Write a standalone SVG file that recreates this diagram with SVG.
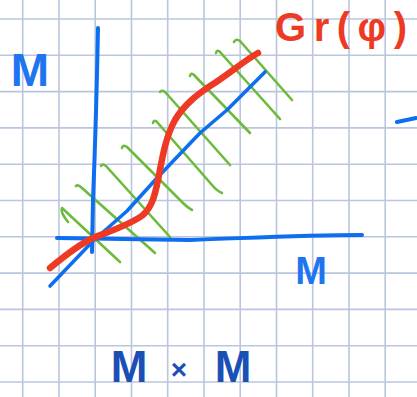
<svg xmlns="http://www.w3.org/2000/svg" width="417" height="397" viewBox="0 0 417 397">
<style>
.grid line{stroke:#b9c6de;stroke-width:1.6}
.ax{fill:none;stroke:#0d6ef0;stroke-linecap:round;stroke-linejoin:round}
.hatch path{fill:none;stroke:#6cbb3c;stroke-width:2.6;stroke-linecap:round;stroke-linejoin:round}
.red{fill:none;stroke:#ee3a24;stroke-width:6.5;stroke-linecap:round;stroke-linejoin:round}
.lbl{font-family:"Liberation Sans",Arial,sans-serif;font-weight:bold}
</style>
<rect width="417" height="397" fill="#ffffff"/>
<g class="grid">
<line x1="22.7" y1="0" x2="22.7" y2="397"/><line x1="59" y1="0" x2="59" y2="397"/><line x1="95.2" y1="0" x2="95.2" y2="397"/><line x1="131.5" y1="0" x2="131.5" y2="397"/><line x1="167.7" y1="0" x2="167.7" y2="397"/><line x1="204" y1="0" x2="204" y2="397"/><line x1="240.2" y1="0" x2="240.2" y2="397"/><line x1="276.5" y1="0" x2="276.5" y2="397"/><line x1="312.7" y1="0" x2="312.7" y2="397"/><line x1="349" y1="0" x2="349" y2="397"/><line x1="385.2" y1="0" x2="385.2" y2="397"/>
<line x1="0" y1="19" x2="417" y2="19"/><line x1="0" y1="55.3" x2="417" y2="55.3"/><line x1="0" y1="91.6" x2="417" y2="91.6"/><line x1="0" y1="127.9" x2="417" y2="127.9"/><line x1="0" y1="164.2" x2="417" y2="164.2"/><line x1="0" y1="200.5" x2="417" y2="200.5"/><line x1="0" y1="236.8" x2="417" y2="236.8"/><line x1="0" y1="273.1" x2="417" y2="273.1"/><line x1="0" y1="309.4" x2="417" y2="309.4"/><line x1="0" y1="345.7" x2="417" y2="345.7"/><line x1="0" y1="382" x2="417" y2="382"/>
</g>
<g id="hatching" class="hatch">
<path d="M68,222 Q60,212 62,208 L120,262"/>
<path d="M76,186 Q78,184 82,188 L155,253"/>
<path d="M101,166 Q102,163 106,166 L170,237"/>
<path d="M122,148 Q123,144 127,147 L183,203 Q188,208 192,210"/>
<path d="M153,123 Q154,119 157,122 L212,185 Q217,191 222,193"/>
<path d="M160,92 Q162,89 166,93 L230,165"/>
<path d="M190,76 Q191,72 194,75 L250,133"/>
<path d="M216,53 Q217,49 220,52 L280,119"/>
<path d="M234,42 Q236,38 240,41 L292,100"/>
</g>
<g id="axes">
<path class="ax" stroke-width="4" d="M98,28 C97,80 95,150 93,200 L92,252"/>
<path class="ax" stroke-width="4" d="M57,238 L190,240 C250,238 300,235 362,235"/>
<path class="ax" stroke-width="4" d="M397,122 L416,118"/>
</g>
<g id="diagonal">
<path class="ax" stroke-width="3.6" d="M50,286 L93,241 L127,211 L157,178 L200,133 L227,110 L247,90 L265,72"/>
</g>
<g id="graph">
<path class="red" d="M50,268 C62,258 80,244 93,238 C105,233 130,225 143,215 C152,207 155,195 158,180 C162,160 165,138 175,120 C185,103 200,93 210,86 C225,77 245,60 258,53"/>
</g>
<g id="labels">
<text class="lbl" x="30" y="86" font-size="46" fill="#1f74f0" text-anchor="middle">M</text>
<text class="lbl" x="311" y="284" font-size="38" fill="#1f74f0" text-anchor="middle">M</text>
<text class="lbl" y="382" font-size="44" fill="#1a4fb5" text-anchor="middle"><tspan x="129">M</tspan><tspan x="179" font-size="28" dy="-3">×</tspan><tspan x="233" dy="3">M</tspan></text>
<text class="lbl" x="275" y="41" font-size="40" fill="#ee3a24" textLength="132" lengthAdjust="spacing">Gr(φ)</text>
</g>
</svg>
